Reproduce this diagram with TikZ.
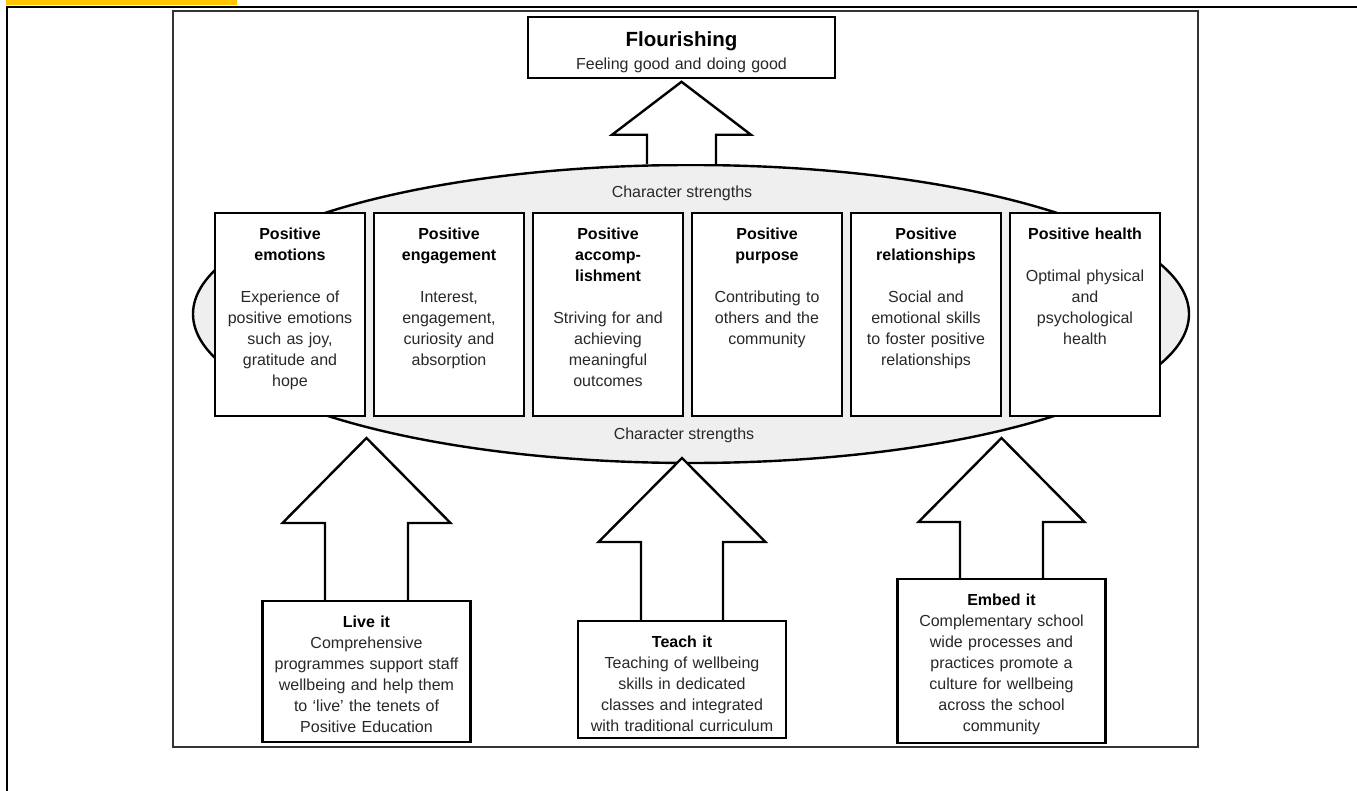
\documentclass[tikz,border=0pt]{standalone}
\usepackage{fontspec}
\setmainfont{Liberation Sans}
\usepackage{xcolor}
\usetikzlibrary{shapes.geometric, positioning, backgrounds, calc}
\definecolor{baryellow}{RGB}{255,198,0}
\definecolor{ovalgray}{RGB}{239,239,239}
\definecolor{bodygray}{RGB}{40,40,40}

% bold heading inside a box
\newcommand{\boxhead}[1]{{\bfseries\color{black}#1}}
% hollow block arrow pointing up: base, length, head length, shaft half width, head half width
\newcommand{\upblock}[5]{%
  \draw[blockarr] (#1) ++(-#4,0) -- ++(0,{-(#2-#3)}) -- ++({-(#5-#4)},0) -- ++(#5,-#3)
    -- ++(#5,#3) -- ++({-(#5-#4)},0) -- ++(0,{#2-#3});
}

\begin{document}
\begin{tikzpicture}[
  x=1pt, y=-1pt,
  blockarr/.style={draw=black, fill=white, line width=2.4pt, line join=miter},
  strength/.style={draw, line width=2.4pt, fill=white, anchor=north, text width=142pt, inner xsep=4pt, inner ysep=0pt, text height=26pt, text depth=177pt, align=center, text=bodygray, font=\fontsize{16}{21}\selectfont},
  actbox/.style={draw, line width=2.4pt, fill=white, anchor=north, text width=200pt, inner xsep=4pt, inner ysep=0pt, text height=26pt, align=center, text=bodygray, font=\fontsize{16}{21}\selectfont},
  cslbl/.style={text=bodygray, font=\fontsize{16}{21}\selectfont}
]
\useasboundingbox (0,0) rectangle (1357,791);

% page frame
\fill[baryellow] (6,0) rectangle (237,5);
\draw[line width=2.5pt] (7,791) -- (7,7) -- (1357,7);
\draw[line width=1.4pt, black!80] (173,11) rectangle (1198,747);

\node[draw, line width=2.4pt, fill=white, anchor=north, text width=299pt, inner xsep=4pt, inner ysep=0pt, text height=29pt, text depth=32pt, align=center, font=\fontsize{16}{21}\selectfont, text=bodygray] (flour) at (681.5,16)
  {{\fontsize{20.5}{24}\selectfont\bfseries\color{black}Flourishing}\\[2.6pt]Feeling good and doing good};

\node[strength] (emo) at (290,212)  {\boxhead{Positive\\emotions}\\[21pt]Experience of\\positive emotions\\such as joy,\\gratitude and\\hope};
\node[strength] (eng) at (449,212)  {\boxhead{Positive\\engagement}\\[21pt]Interest,\\engagement,\\curiosity and\\absorption};
\node[strength] (acc) at (608,212)  {\boxhead{Positive\\accomp-\\lishment}\\[21pt]Striving for and\\achieving\\meaningful\\outcomes};
\node[strength] (pur) at (767,212)  {\boxhead{Positive\\purpose}\\[21pt]Contributing to\\others and the\\community};
\node[strength] (rel) at (926,212)  {\boxhead{Positive\\relationships}\\[21pt]Social and\\emotional skills\\to foster positive\\relationships};
\node[strength] (hea) at (1085,212) {\boxhead{Positive health}\\[21pt]Optimal physical\\and\\psychological\\health};

\node[cslbl] (cstop) at (682,193) {Character strengths};
\node[cslbl] (csbot) at (684,435) {Character strengths};

\node[actbox, text depth=115pt] (live)  at (366.5,600) {\boxhead{Live it}\\Comprehensive\\programmes support staff\\wellbeing and help them\\to `live' the tenets of\\Positive Education};
\node[actbox, text depth=91pt]  (teach) at (682,620)   {\boxhead{Teach it}\\Teaching of wellbeing\\skills in dedicated\\classes and integrated\\with traditional curriculum};
\node[actbox, text depth=138pt] (embed) at (1001.5,578) {\boxhead{Embed it}\\Complementary school\\wide processes and\\practices promote a\\culture for wellbeing\\across the school\\community};

\begin{scope}[on background layer]
  \node[draw, ellipse, line width=2.4pt, fill=ovalgray, minimum width=996pt, minimum height=298pt, inner sep=0pt] (cs) at (691,314) {};
  \upblock{flour.south |- cs.north}{82}{53}{34.5}{69.5}
  \upblock{live.north}{162}{85}{41.5}{84}
  \upblock{teach.north}{162}{84}{41}{83.5}
  \upblock{embed.north}{140}{84}{41.5}{83}
\end{scope}
\end{tikzpicture}
\end{document}
